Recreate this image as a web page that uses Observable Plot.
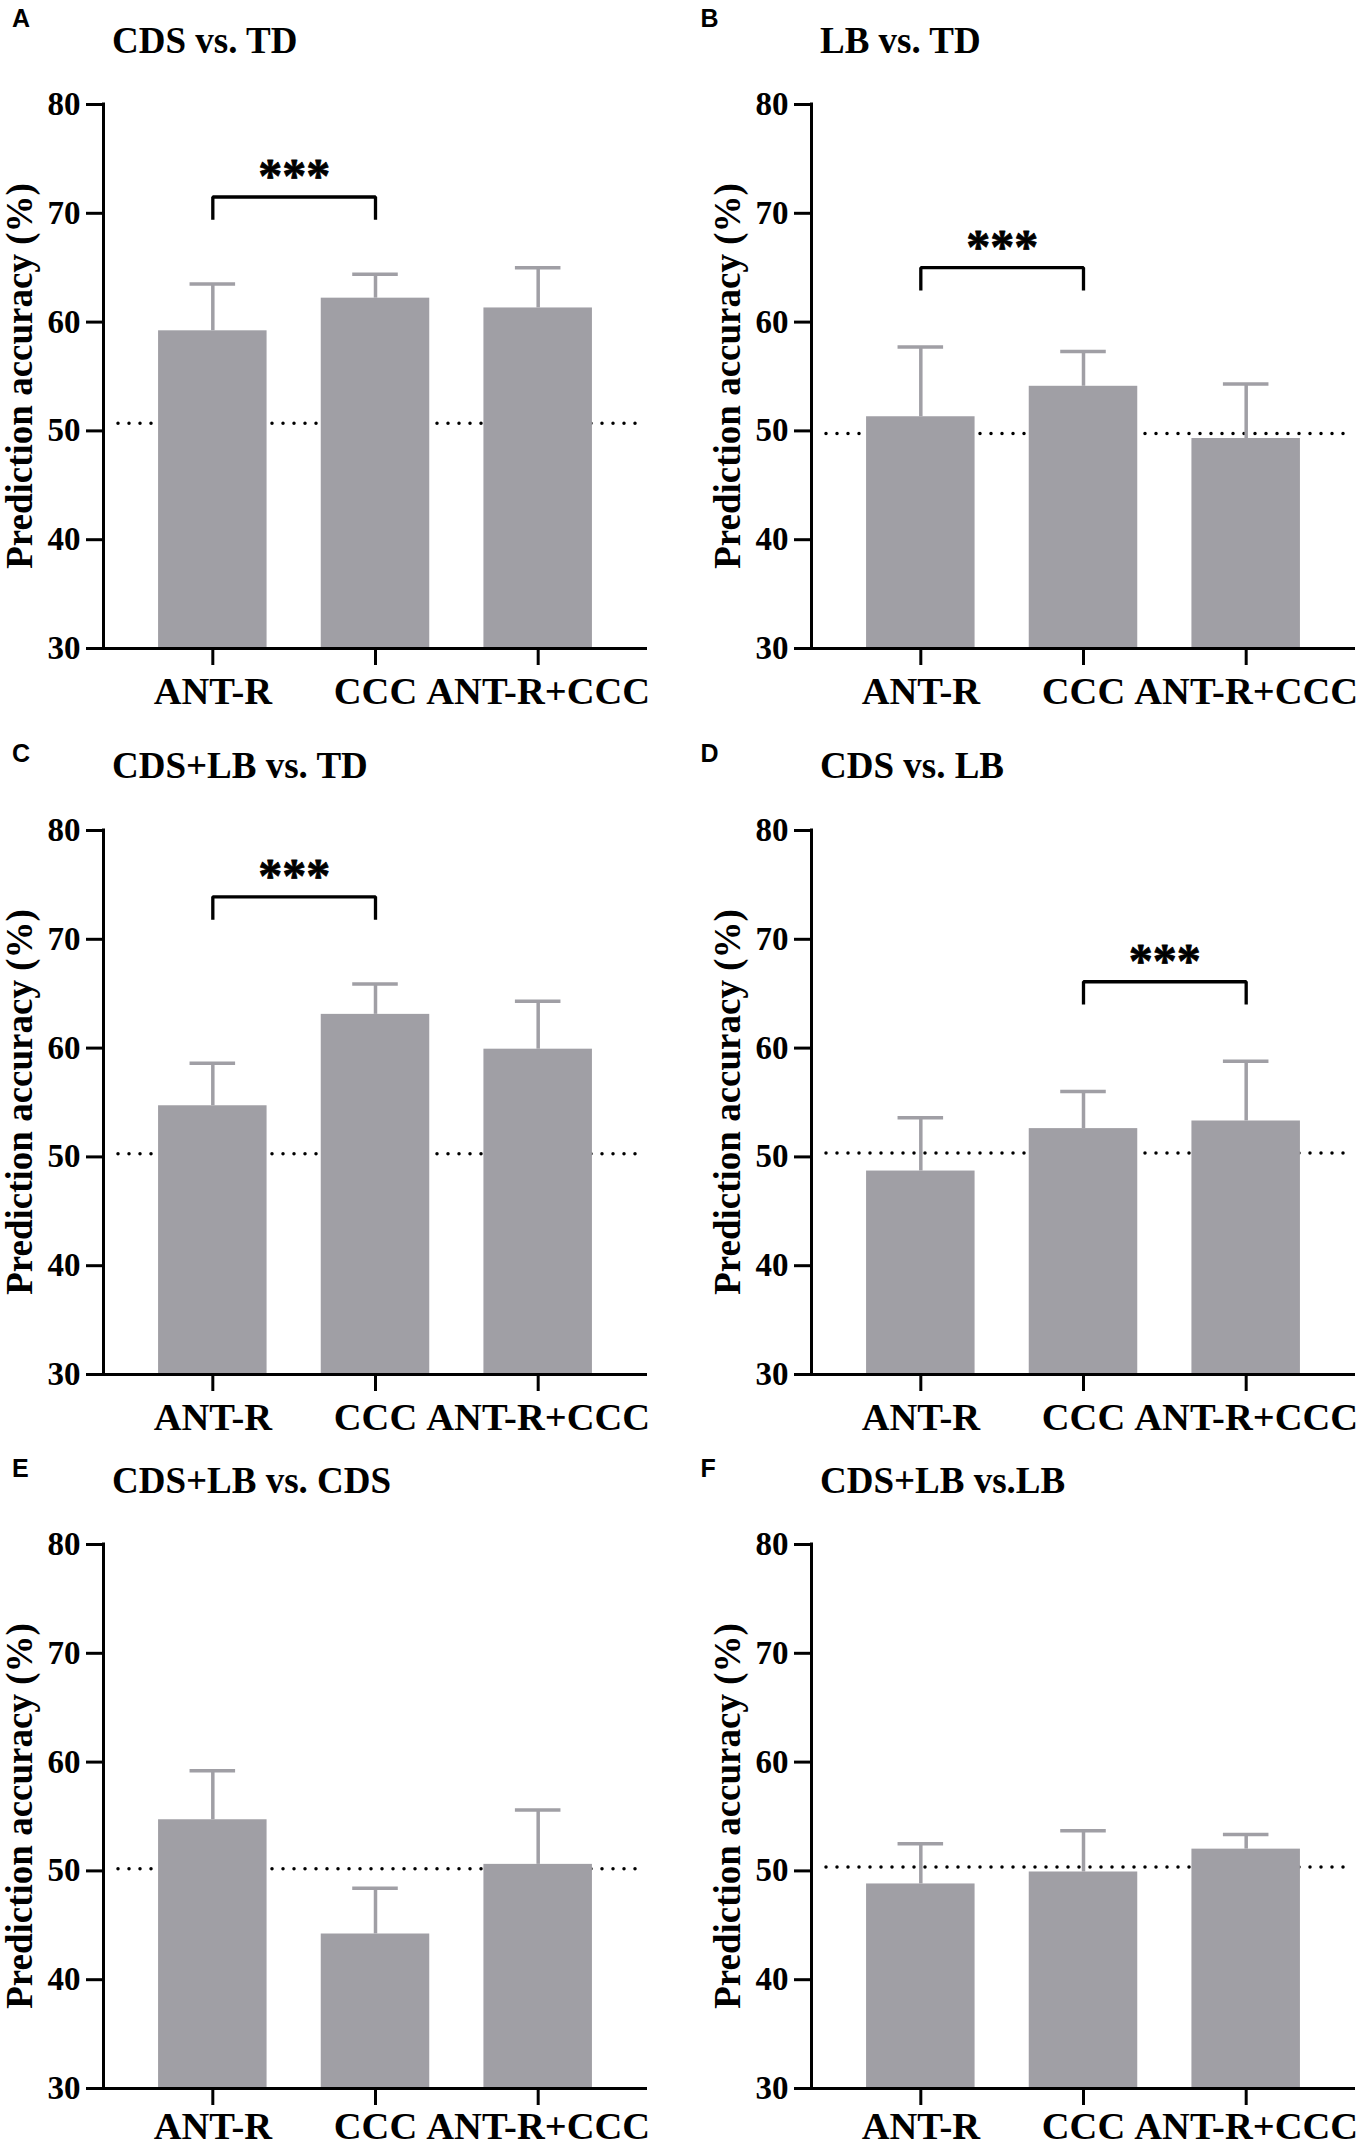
<!DOCTYPE html>
<html>
<head>
<meta charset="utf-8">
<script src="https://cdn.jsdelivr.net/npm/d3@7"></script>
<script src="https://cdn.jsdelivr.net/npm/@observablehq/plot@0.6"></script>
<style>
  html, body { margin: 0; padding: 0; background: #fff; }
  #fig { position: relative; width: 1358px; height: 2150px; overflow: hidden; background: #fff; }
  .abs { position: absolute; white-space: nowrap; line-height: 1; color: #000; }
  .letter { font-family: "Liberation Sans", Arial, sans-serif; font-weight: bold; font-size: 25px; }
  .title { font-family: "Liberation Serif", "Times New Roman", serif; font-weight: bold; font-size: 37px; }
  .ylab { font-family: "Liberation Serif", "Times New Roman", serif; font-weight: bold; font-size: 37px;
          transform: translate(-50%, -50%) rotate(-90deg); }
  .plotwrap { position: absolute; }
  .plotwrap svg { max-width: none !important; overflow: visible; }
</style>
</head>
<body>
<div id="fig"></div>
<script>
// ---------- data ----------
const panelLetters = ["A", "B", "C", "D", "E", "F"];
const panelTitles = ["CDS vs. TD", "LB vs. TD", "CDS+LB vs. TD", "CDS vs. LB", "CDS+LB vs. CDS", "CDS+LB vs.LB"];
const categories = ["ANT-R", "CCC", "ANT-R+CCC"];
const yTicks = [30, 40, 50, 60, 70, 80];
const yLabel = "Prediction accuracy (%)";

// mean prediction accuracy per panel (ANT-R, CCC, ANT-R+CCC)
const meansA = [59.2, 62.2, 61.3];
const meansB = [51.3, 54.1, 49.3];
const meansC = [54.7, 63.1, 59.9];
const meansD = [48.7, 52.6, 53.3];
const meansE = [54.7, 44.2, 50.6];
const meansF = [48.8, 49.9, 52.0];
// upper error (SD) per panel
const errA = [4.3, 2.2, 3.7];
const errB = [6.4, 3.2, 5.0];
const errC = [3.9, 2.8, 4.4];
const errD = [4.9, 3.4, 5.5];
const errE = [4.5, 4.2, 5.0];
const errF = [3.7, 3.8, 1.35];
// chance level (dotted line)
const chanceLevels = [50.7, 49.75, 50.3, 50.35, 50.2, 50.35];
// significance brackets: [from index, to index, height]
const brackets = [[0, 1, 71.5], [0, 1, 65.0], [0, 1, 73.9], [1, 2, 66.1], null, null];
const sigLabel = "***";

const allMeans = [meansA, meansB, meansC, meansD, meansE, meansF];
const allErr = [errA, errB, errC, errD, errE, errF];

// ---------- layout / style ----------
const barColor = "#a09fa5";
const colLeft = [0, 708];
const letterLeft = [12, 700.5];
const rowY80 = [104, 830, 1544];
const titleBase = [52.7, 777.5, 1493];
const letterBase = [27, 762, 1477];
const xLabelPad = [11, 11, 6];
const xDomain = [-0.672, 2.672];
const barHalf = 0.3335;
const capHalf = 0.14;
const legDrop = 2.1;
const serif = "'Liberation Serif', 'Times New Roman', serif";

const fig = document.getElementById("fig");

function addText(cls, text, left, top) {
  const d = document.createElement("div");
  d.className = "abs " + cls;
  d.textContent = text;
  d.style.left = left + "px";
  d.style.top = top + "px";
  fig.appendChild(d);
  return d;
}

panelLetters.forEach((letter, k) => {
  const col = k % 2, row = Math.floor(k / 2);
  const x0 = colLeft[col];
  const y80 = rowY80[row];

  // panel letter and title
  addText("letter", letter, letterLeft[col], letterBase[row] - 0.8465 * 25);
  addText("title", panelTitles[k], x0 + 112, titleBase[row] - 0.8375 * 37);
  // y-axis label
  addText("ylab", yLabel, x0 + 19, y80 + 272);

  const data = categories.map((c, i) => ({i, cat: c, mean: allMeans[k][i], err: allErr[k][i]}));
  const marks = [
    Plot.ruleY([chanceLevels[k]], {stroke: "black", strokeWidth: 3.5, strokeDasharray: "0,11", strokeLinecap: "round", insetLeft: 15, insetRight: 8}),
    Plot.rectY(data, {x1: d => d.i - barHalf, x2: d => d.i + barHalf, y1: yTicks[0], y2: "mean", fill: barColor}),
    Plot.ruleX(data, {x: "i", y1: "mean", y2: d => d.mean + d.err, stroke: barColor, strokeWidth: 3.5}),
    Plot.ruleY(data, {y: d => d.mean + d.err, x1: d => d.i - capHalf, x2: d => d.i + capHalf, stroke: barColor, strokeWidth: 3.5}),
    Plot.ruleY([yTicks[0]], {stroke: "black", strokeWidth: 3}),
    Plot.ruleX([xDomain[0]], {y1: yTicks[0], y2: yTicks[yTicks.length - 1], stroke: "black", strokeWidth: 3, strokeLinecap: "square"}),
    Plot.axisY({ticks: yTicks, tickSize: 17, tickPadding: 6, fontSize: 33, fontWeight: "bold", strokeWidth: 3, label: null}),
    Plot.axisX({ticks: [0, 1, 2], tickFormat: i => categories[i], tickSize: 17, tickPadding: xLabelPad[row], fontSize: 38.5, fontWeight: "bold", strokeWidth: 3, label: null})
  ];
  const br = brackets[k];
  if (br) {
    const [a, b, h] = br;
    const pts = [
      {x: a, y: h - legDrop}, {x: a, y: h}, {x: b, y: h}, {x: b, y: h - legDrop}
    ];
    marks.push(Plot.line(pts, {x: "x", y: "y", stroke: "black", strokeWidth: 3.3, strokeLinejoin: "miter", strokeLinecap: "butt"}));
    marks.push(Plot.text([br], {x: d => (d[0] + d[1]) / 2, y: d => d[2], text: () => sigLabel, fontSize: 48, fontWeight: "bold", lineAnchor: "bottom", dy: -5, fill: "black", stroke: "black", strokeWidth: 0.8}));
  }

  const svg = Plot.plot({
    width: 680,
    height: 60 + 544 + 70,
    marginLeft: 103,
    marginRight: 33,
    marginTop: 60,
    marginBottom: 70,
    style: {fontFamily: serif, fontWeight: "bold", color: "black", background: "transparent", overflow: "visible"},
    x: {type: "linear", domain: xDomain, nice: false},
    y: {type: "linear", domain: [yTicks[0], yTicks[yTicks.length - 1]], nice: false},
    marks
  });
  const wrap = document.createElement("div");
  wrap.className = "plotwrap";
  wrap.style.left = x0 + "px";
  wrap.style.top = (y80 - 60) + "px";
  wrap.appendChild(svg);
  fig.insertBefore(wrap, fig.firstChild);
});
</script>
</body>
</html>
